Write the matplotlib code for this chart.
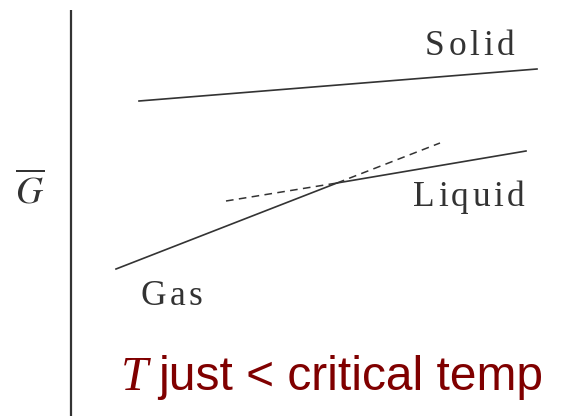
import matplotlib
matplotlib.use("Agg")
import matplotlib.pyplot as plt

# free energy curves (x = pressure-ish, G = molar free energy), arbitrary units
solid_x = [139, 537]
solid_g = [315, 347]
liquid_x = [337, 526]
liquid_g = [233, 265]
liquid_ext_x = [226, 337]
liquid_ext_g = [215, 233]
gas_x = [116, 337]
gas_g = [147, 233]
gas_ext_x = [337, 440]
gas_ext_g = [233, 273]
axis_x = [71, 71]
axis_g = [0, 406]

plt.rcParams['mathtext.fontset'] = 'stix'

fig = plt.figure(figsize=(5.63, 4.16), dpi=100)
ax = fig.add_axes([0, 0, 1, 1])
ax.set_xlim(0, 563)
ax.set_ylim(0, 416)
ax.axis('off')
renderer = fig.canvas.get_renderer()


def spaced(x, y, s, gap, **kw):
    # draw a word letter by letter with extra tracking (x, y in data = px)
    for ch in s:
        t = ax.text(x, y, ch, ha='left', va='baseline', **kw)
        bb = t.get_window_extent(renderer)
        x = bb.x1 + gap


ink = '#333333'
ax.plot(axis_x, axis_g, color=ink, lw=1.6, solid_capstyle='butt')
ax.plot(solid_x, solid_g, color=ink, lw=1.2)
ax.plot(liquid_x, liquid_g, color=ink, lw=1.2)
ax.plot(gas_x, gas_g, color=ink, lw=1.2)
ax.plot(liquid_ext_x, liquid_ext_g, color=ink, lw=1.1, dashes=(5, 3.5))
ax.plot(gas_ext_x, gas_ext_g, color=ink, lw=1.1, dashes=(5, 3.5))

serif = dict(family='Liberation Serif', size=25.5, color=ink)
spaced(425, 361, 'Solid', 3.6, **serif)
spaced(413, 210, 'Liquid', 3.4, **serif)
spaced(141, 111, 'Gas', 3.0, **serif)
ax.text(30, 213, r'$\overline{G}$', ha='center', va='baseline',
        fontsize=27, color=ink)

red = '#800000'
ax.text(121, 26, 'T', ha='left', va='baseline', family='Liberation Serif',
        style='italic', size=35, color=red)
ax.text(543, 26, 'just < critical temp', ha='right', va='baseline',
        family='Liberation Sans', size=34.5, color=red)

fig.savefig('out.png', dpi=100)
